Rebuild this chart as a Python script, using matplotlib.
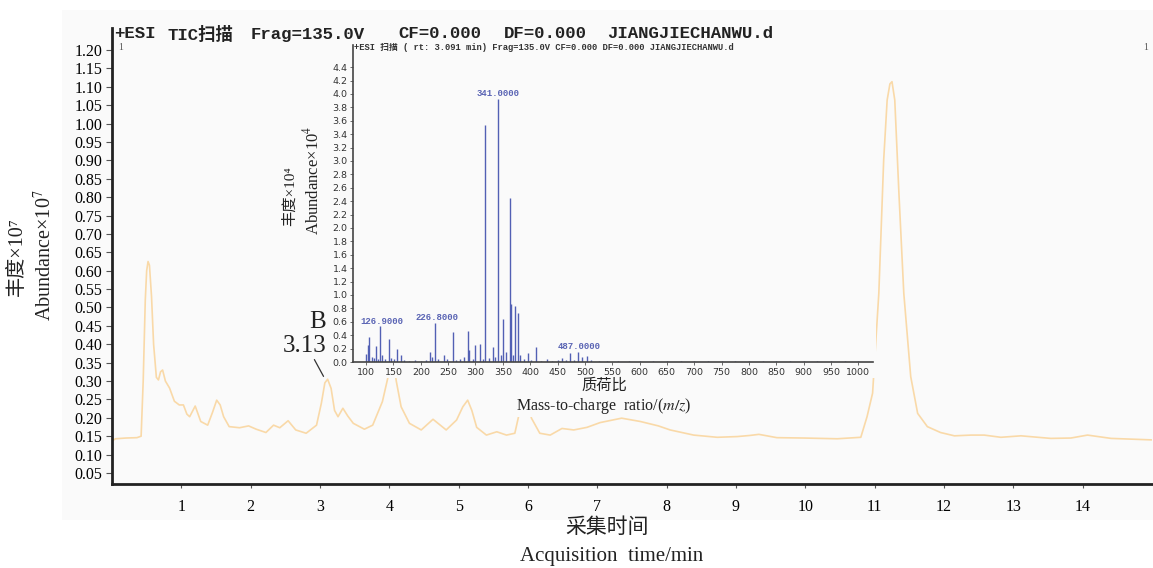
import matplotlib
matplotlib.use("Agg")
import matplotlib.pyplot as plt
from matplotlib.patches import Rectangle
import numpy as np

# TIC chromatogram (time in min, abundance x 10^7)
tic_time = [0.00, 0.05, 0.20, 0.36, 0.42, 0.45, 0.48, 0.50, 0.52, 0.54, 0.57, 0.60,
            0.64, 0.67, 0.70, 0.73, 0.77, 0.83, 0.90, 0.97, 1.03, 1.08, 1.12, 1.20,
            1.28, 1.38, 1.45, 1.51, 1.56, 1.61, 1.69, 1.84, 1.97, 2.08, 2.22, 2.33,
            2.42, 2.54, 2.65, 2.80, 2.95, 3.02, 3.07, 3.11, 3.16, 3.21, 3.26, 3.33,
            3.40, 3.48, 3.64, 3.76, 3.90, 3.98, 4.04, 4.10, 4.17, 4.29, 4.46, 4.63,
            4.82, 4.97, 5.06, 5.13, 5.19, 5.26, 5.40, 5.55, 5.69, 5.81, 5.88, 5.94,
            6.00, 6.05, 6.17, 6.32, 6.49, 6.66, 6.85, 7.04, 7.35, 7.62, 7.88, 8.05,
            8.39, 8.73, 9.02, 9.20, 9.33, 9.59, 9.98, 10.46, 10.80, 10.89, 10.97,
            11.06, 11.13, 11.18, 11.22, 11.25, 11.29, 11.35, 11.42, 11.52, 11.62, 11.76,
            11.95, 12.15, 12.39, 12.58, 12.82, 13.11, 13.54, 13.83, 14.07, 14.41, 14.99]
tic_abund = [0.137, 0.143, 0.145, 0.146, 0.150, 0.300, 0.520, 0.600, 0.625, 0.615, 0.530, 0.400,
             0.310, 0.303, 0.325, 0.330, 0.300, 0.281, 0.245, 0.235, 0.235, 0.210, 0.203, 0.232,
             0.190, 0.180, 0.215, 0.248, 0.235, 0.203, 0.176, 0.173, 0.178, 0.169, 0.160, 0.180,
             0.173, 0.192, 0.167, 0.158, 0.180, 0.240, 0.295, 0.305, 0.280, 0.220, 0.203, 0.226,
             0.205, 0.185, 0.169, 0.180, 0.244, 0.310, 0.380, 0.300, 0.230, 0.185, 0.167, 0.196,
             0.167, 0.194, 0.230, 0.248, 0.220, 0.174, 0.153, 0.162, 0.153, 0.158, 0.217, 0.250,
             0.235, 0.199, 0.158, 0.153, 0.171, 0.167, 0.174, 0.187, 0.199, 0.190, 0.178, 0.167,
             0.153, 0.147, 0.149, 0.152, 0.155, 0.146, 0.145, 0.143, 0.147, 0.203, 0.267,
             0.539, 0.901, 1.064, 1.108, 1.114, 1.064, 0.810, 0.539, 0.312, 0.212, 0.176,
             0.160, 0.151, 0.153, 0.153, 0.147, 0.151, 0.144, 0.145, 0.153, 0.144, 0.140]

# mass spectrum at rt 3.091 min (m/z, abundance x 10^4)
ms_mz = [100, 102.7, 106, 111, 114, 117.7, 121, 125.6, 128.7, 134, 141.5, 146, 151, 157,
         163.4, 170, 178, 190, 200, 210, 216, 220, 226.2, 231, 242.7, 247, 258, 265, 272,
         279, 286, 288, 295, 300, 308, 313, 318, 324, 331.8, 336, 341, 346, 350, 355.8,
         362.3, 364.7, 368, 372, 378, 381.7, 388, 396, 402, 410, 420, 431, 440, 450, 458,
         465, 472, 480, 487, 494.7, 503.7, 512, 525, 540, 560, 580, 600, 625, 650, 675,
         700, 725, 750, 775, 800, 825, 850, 875, 900, 925, 950, 975, 1000]
ms_int = [0.12, 0.25, 0.38, 0.08, 0.06, 0.24, 0.05, 0.53, 0.10, 0.05, 0.34, 0.06, 0.04, 0.19,
          0.10, 0.03, 0.02, 0.03, 0.02, 0.03, 0.15, 0.08, 0.58, 0.04, 0.10, 0.04, 0.45, 0.03, 0.05,
          0.08, 0.47, 0.18, 0.05, 0.25, 0.27, 0.04, 3.53, 0.06, 0.22, 0.08, 3.92, 0.10, 0.64, 0.15,
          2.44, 0.86, 0.10, 0.84, 0.73, 0.10, 0.04, 0.13, 0.03, 0.23, 0.02, 0.04, 0.02, 0.03, 0.06,
          0.03, 0.13, 0.03, 0.145, 0.07, 0.094, 0.03, 0.02, 0.02, 0.015, 0.02, 0.015, 0.02, 0.015, 0.02,
          0.015, 0.02, 0.015, 0.015, 0.02, 0.015, 0.02, 0.015, 0.02, 0.015, 0.02, 0.015, 0.015]

ms_labels = ["126.9000", "226.8000", "341.0000", "487.0000"]
ms_label_pos = [(129, 0.60), (230, 0.66), (341, 4.01), (490, 0.224)]

main_yticks = np.round(np.arange(0.05, 1.201, 0.05), 2)
main_xticks = list(range(1, 15))
inset_yticks = np.round(np.arange(0.0, 4.41, 0.2), 1)
inset_xticks = list(range(100, 1001, 50))

W, H = 1153, 568
BG = "#fafafa"
TIC_COLOR = "#f9d9a8"
MS_COLOR = "#5260b4"
SERIF_CJK = ['Liberation Serif', 'Noto Sans CJK SC', 'DejaVu Serif']


def fx(px):
    return px / W


def fy(py):
    return 1 - py / H


plt.rcParams['font.family'] = SERIF_CJK
plt.rcParams['mathtext.fontset'] = 'stix'

fig = plt.figure(figsize=(W / 100, H / 100), dpi=100)
fig.patch.set_facecolor("white")
fig.patches.append(Rectangle((fx(62), fy(520)), fx(1153 - 62), (520 - 10) / H,
                             transform=fig.transFigure, facecolor=BG, edgecolor="none", zorder=-1))

# main chromatogram
ax = fig.add_axes([fx(112), fy(484), fx(1152 - 112), (484 - 28) / H], zorder=0)
ax.patch.set_alpha(0)
ax.plot(tic_time, tic_abund, color=TIC_COLOR, lw=1.2)
ax.set_xlim(0, 15)
ax.set_ylim(0.02, 1.26)
ax.set_yticks(main_yticks)
ax.set_yticklabels([f"{v:.2f}" for v in main_yticks])
ax.set_xticks(main_xticks)
for s in ["top", "right"]:
    ax.spines[s].set_visible(False)
for s in ["left", "bottom"]:
    ax.spines[s].set_linewidth(2)
    ax.spines[s].set_color("#222222")
ax.tick_params(axis="y", direction="out", length=4, width=0.8, color="#555555",
               labelsize=11.5, pad=3)
ax.tick_params(axis="x", direction="out", length=3, width=0.8, color="#555555",
               labelsize=11.5, pad=8)

# peak annotation
ax.annotate("", xy=(3.07, 0.306), xytext=(2.90, 0.365),
            arrowprops=dict(arrowstyle="-", lw=0.9, color="#333333"))
ax.text(2.96, 0.46, "B", fontsize=18, ha="center", va="center", color="#222222")
ax.text(2.78, 0.395, "3.13", fontsize=18, ha="center", va="center", color="#222222")

# header of main chart
header_words = ["+ESI", "TIC扫描", "Frag=135.0V", "CF=0.000", "DF=0.000", "JIANGJIECHANWU.d"]
header_x = [114, 168, 251, 398, 504, 607]
for word, px in zip(header_words, header_x):
    fig.text(fx(px), fy(34), word, family=['Liberation Mono', 'Noto Sans CJK SC'],
             fontweight="bold", fontsize=12.5, ha="left", va="center", color="#222222")
fig.text(fx(118), fy(48), "1", fontsize=7, ha="left", va="center", color="#555555")
fig.text(fx(1143), fy(48), "1", fontsize=7, ha="left", va="center", color="#555555")

# axis labels of main chart
fig.text(fx(17), fy(257), "丰度×10⁷", rotation=90, fontsize=14.5,
         ha="center", va="center", color="#222222")
fig.text(fx(45), fy(255), "Abundance×10$^7$", rotation=90, fontsize=14.5,
         ha="center", va="center", color="#222222")
fig.text(fx(607), fy(528), "采集时间", fontsize=15, ha="center", va="center", color="#222222")
fig.text(fx(612), fy(556), "Acquisition  time/min", fontsize=15, ha="center", va="center",
         color="#222222")

# cover behind inset
fig.patches.append(Rectangle((fx(334), fy(378)), fx(876 - 334), (378 - 40) / H,
                             transform=fig.transFigure, facecolor=BG, edgecolor="none", zorder=1))

# inset mass spectrum
ins = fig.add_axes([fx(353), fy(362), fx(873 - 353), (362 - 45) / H], zorder=2)
ins.set_facecolor(BG)
ins.vlines(ms_mz, 0, ms_int, color=MS_COLOR, lw=1.0)
ins.set_xlim(76, 1027)
ins.set_ylim(0, 4.73)
ins.set_yticks(inset_yticks)
ins.set_yticklabels([f"{v:.1f}" for v in inset_yticks])
ins.set_xticks(inset_xticks)
for s in ["top", "right"]:
    ins.spines[s].set_visible(False)
for s in ["left", "bottom"]:
    ins.spines[s].set_linewidth(1.2)
    ins.spines[s].set_color("#444444")
ins.tick_params(direction="out", length=2.5, width=0.6, color="#555555",
                labelsize=6.8, pad=1.5, labelcolor="#333333")
for lab in ins.get_xticklabels() + ins.get_yticklabels():
    lab.set_family("DejaVu Sans")
for txt, (mx, my) in zip(ms_labels, ms_label_pos):
    ins.text(mx, my, txt, family="Liberation Mono", fontweight="bold", fontsize=6.5,
             color="#5a64b4", ha="center", va="center")
fig.text(fx(354), fy(48), "+ESI 扫描 ( rt: 3.091 min) Frag=135.0V CF=0.000 DF=0.000 JIANGJIECHANWU.d",
         family=['Liberation Mono', 'Noto Sans CJK SC'], zorder=3,
         fontweight="bold", fontsize=6.3, ha="left", va="center", color="#333333")

fig.text(fx(290), fy(196), "丰度×10⁴", rotation=90, fontsize=11,
         ha="center", va="center", color="#222222", zorder=3)
fig.text(fx(312), fy(180), "Abundance×10$^4$", rotation=90, fontsize=12,
         ha="center", va="center", color="#222222", zorder=3)
fig.text(fx(604), fy(385), "质荷比", fontsize=11, ha="center", va="center",
         color="#222222", zorder=3)
fig.text(fx(604), fy(406), "Mass-to-charge  ratio/($m/z$)", fontsize=11.5, ha="center",
         va="center", color="#222222", zorder=3,
         bbox=dict(facecolor=BG, edgecolor="none", pad=0.5))

fig.savefig("out.png", dpi=100, facecolor="white")
